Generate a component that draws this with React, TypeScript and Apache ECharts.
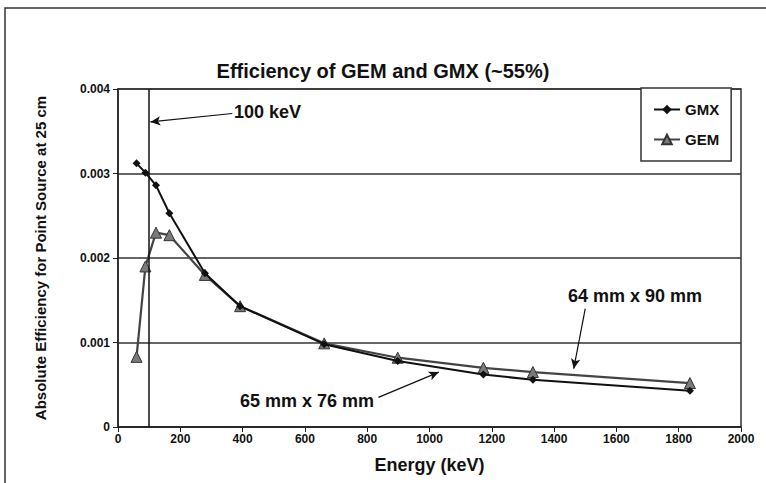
import React, { useEffect, useRef } from "react";
import * as echarts from "echarts";

const energies = [59.5, 88, 122, 165, 279, 392, 662, 898, 1173, 1332, 1836];
const gmxEff = [0.00312, 0.00301, 0.00286, 0.00253, 0.00182, 0.00143, 0.00098, 0.00078, 0.00062, 0.00056, 0.00043];
const gemEff = [0.00083, 0.0019, 0.0023, 0.00227, 0.0018, 0.00143, 0.00099, 0.00082, 0.0007, 0.00065, 0.00052];
const seriesNames = ["GMX", "GEM"];
const titleText = "Efficiency of GEM and GMX (~55%)";
const xName = "Energy (keV)";
const yName = "Absolute Efficiency for Point Source at 25 cm";
const markerEnergy = 100;

const FONT = "'Liberation Sans', Arial, sans-serif";

export default function App() {
  const ref = useRef<HTMLDivElement>(null);
  useEffect(() => {
    if (!ref.current) return;
    const chart = echarts.init(ref.current, null, { renderer: "svg" });
    const pair = (xs: number[], ys: number[]) => xs.map((x, i) => [x, ys[i]]);
    const option: any = {
      animation: false,
      backgroundColor: "#fff",
      textStyle: { fontFamily: FONT },
      title: {
        text: titleText,
        left: "center",
        top: 56,
        textStyle: { fontFamily: FONT, fontWeight: "bold", fontSize: 20, color: "#111" },
      },
      grid: {
        left: 118,
        right: 25,
        top: 89,
        bottom: 56,
        show: true,
        borderColor: "#333",
        borderWidth: 1.5,
        backgroundColor: "transparent",
      },
      legend: {
        orient: "vertical",
        left: 641,
        top: 88,
        padding: [14, 12, 14, 12],
        itemGap: 15,
        itemWidth: 26,
        itemHeight: 12,
        backgroundColor: "#fff",
        borderColor: "#333",
        borderWidth: 1.5,
        borderRadius: 0,
        data: seriesNames,
        textStyle: { fontFamily: FONT, fontWeight: "bold", fontSize: 15, color: "#111" },
      },
      xAxis: {
        type: "value",
        min: 0,
        max: 2000,
        interval: 200,
        name: xName,
        nameLocation: "middle",
        nameGap: 29,
        nameTextStyle: { fontFamily: FONT, fontWeight: "bold", fontSize: 18, color: "#111" },
        axisLine: { show: true, lineStyle: { color: "#222", width: 1.5 } },
        axisTick: { show: true, inside: false, length: 5, lineStyle: { color: "#222" } },
        axisLabel: {
          fontFamily: FONT,
          fontWeight: "bold",
          fontSize: 12,
          color: "#111",
          margin: 6,
          formatter: (v: number) => String(v),
        },
        splitLine: { show: false },
      },
      yAxis: {
        type: "value",
        min: 0,
        max: 0.004,
        interval: 0.001,
        name: yName,
        nameLocation: "middle",
        nameRotate: 90,
        nameGap: 70,
        nameTextStyle: { fontFamily: FONT, fontWeight: "bold", fontSize: 15, color: "#111" },
        axisLine: { show: true, lineStyle: { color: "#222", width: 1.5 } },
        axisTick: { show: true, inside: false, length: 5, lineStyle: { color: "#222" } },
        axisLabel: {
          fontFamily: FONT,
          fontWeight: "bold",
          fontSize: 12,
          color: "#111",
          margin: 8,
          formatter: (v: number) => (v === 0 ? "0" : v.toFixed(3)),
        },
        splitLine: { show: true, lineStyle: { color: "#333", width: 1.5 } },
      },
      series: [
        {
          name: seriesNames[1],
          type: "line",
          data: pair(energies, gemEff),
          symbol: "triangle",
          symbolSize: 11,
          lineStyle: { color: "#444", width: 2.2 },
          itemStyle: { color: "#7a7a7a", borderColor: "#333", borderWidth: 1 },
          z: 3,
        },
        {
          name: seriesNames[0],
          type: "line",
          data: pair(energies, gmxEff),
          symbol: "diamond",
          symbolSize: 8,
          lineStyle: { color: "#111", width: 2 },
          itemStyle: { color: "#111" },
          z: 4,
          markLine: {
            silent: true,
            symbol: ["none", "arrow"],
            symbolSize: [7, 10],
            label: { show: false },
            lineStyle: { color: "#111", width: 1.2, type: "solid" },
            data: [
              [
                { coord: [markerEnergy, 0], symbol: "none", lineStyle: { width: 1.5 } },
                { coord: [markerEnergy, 0.004], symbol: "none" },
              ],
              [{ coord: [367, 0.00371] }, { coord: [markerEnergy + 4, 0.00361] }],
              [{ coord: [1500, 0.0014] }, { coord: [1463, 0.00069] }],
              [
                { coord: [836, 0.00035], lineStyle: { curveness: 0.1 } },
                { coord: [1030, 0.00065] },
              ],
            ],
          },
        },
      ],
      graphic: [
        {
          type: "rect",
          shape: { x: 5, y: 8, width: 900, height: 700 },
          style: { fill: "none", stroke: "#333", lineWidth: 1.5 },
          silent: true,
          z: -1,
        },
        {
          type: "text",
          left: 234,
          top: 103,
          style: { text: "100 keV", font: `bold 18px ${FONT}`, fill: "#111" },
        },
        {
          type: "text",
          left: 568,
          top: 287,
          style: { text: "64 mm x 90 mm", font: `bold 18px ${FONT}`, fill: "#111" },
        },
        {
          type: "text",
          left: 240,
          top: 392,
          style: { text: "65 mm x 76 mm", font: `bold 18px ${FONT}`, fill: "#111" },
        },
      ],
    };
    chart.setOption(option);
    return () => chart.dispose();
  }, []);
  return (
    <div
      ref={ref}
      style={{ position: "fixed", left: 0, top: 0, width: 766, height: 483, background: "#fff" }}
    />
  );
}
